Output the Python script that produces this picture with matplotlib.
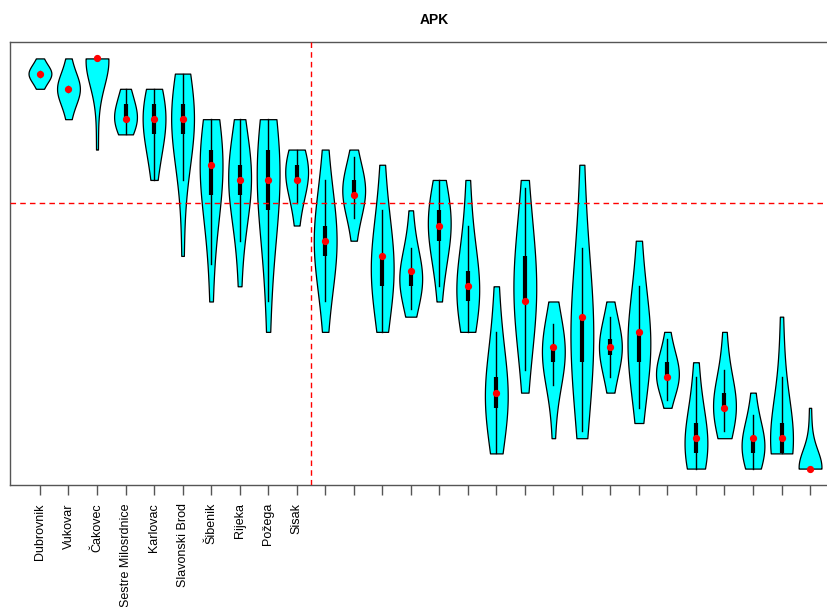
import numpy as np
import matplotlib.pyplot as plt

plt.rcParams['font.family'] = ['Liberation Sans', 'DejaVu Sans']

# hospital names (only the top ten are labelled in the original)
labels = ['Dubrovnik', 'Vukovar', 'Čakovec', 'Sestre Milosrdnice', 'Karlovac',
          'Slavonski Brod', 'Šibenik', 'Rijeka', 'Požega', 'Sisak'] + [''] * 18

# observed ranks per hospital
r01 = [1, 1.2, 1.5, 1.9, 2, 2, 2, 2, 2, 2, 2, 2.1, 2.5, 2.8, 3]
r02 = [1, 1.6, 2.3, 2.9, 3, 3, 3, 3, 3, 3, 3, 3.1, 3.7, 4.4, 5]
r03 = [1, 1, 1, 1, 1, 1, 1, 1, 1, 1, 1, 1.1, 2, 3.5, 7]
r04 = [3, 3, 3.5, 4, 4, 4.5, 5, 5, 5, 5, 5, 5, 5.5, 6, 6]
r05 = [3, 3, 3.5, 4, 4, 4.5, 5, 5, 5.5, 6, 6, 6, 7, 8, 9]
r06 = [2, 3, 3.5, 4, 4, 4.5, 5, 5, 5.5, 6, 6, 6, 7, 9, 14]
r07 = [5, 5.5, 6, 7, 7, 7.5, 8, 8, 8.5, 9, 10, 10, 11, 13, 17]
r08 = [5, 6, 7, 8, 8, 8.5, 9, 9, 9, 9.5, 10, 10, 11, 12.5, 16]
r09 = [5, 5.5, 6, 7, 7, 8, 8.5, 9, 9.5, 10, 11, 11, 12, 15, 19]
r10 = [7, 7, 7, 8, 8, 8, 8.5, 9, 9, 9, 9, 9, 10, 11, 12]
r11 = [7, 9, 10.5, 12, 12, 12.5, 13, 13, 13, 13.5, 14, 14, 15, 16.5, 19]
r12 = [7, 8, 8.5, 9, 9, 9.5, 10, 10, 10, 10, 10, 10, 11, 12, 13]
r13 = [8, 10, 12, 14, 14, 14, 14, 14, 15, 15, 16, 16, 17, 18, 19]
r14 = [11, 12.5, 14, 15, 15, 15, 15, 15, 15.5, 16, 16, 16, 16.5, 17, 18]
r15 = [9, 9.5, 10, 11, 11, 11.5, 12, 12, 12, 12.5, 13, 13, 14, 15, 17]
r16 = [9, 11, 13, 15, 15, 15.5, 16, 16, 16, 16.5, 17, 17, 17.5, 18, 19]
r17 = [16, 18, 20, 22, 22, 22.5, 23, 23, 23, 23.5, 24, 24, 25, 26, 27]
r18 = [9, 11, 12.5, 14, 14, 15, 16, 17, 17, 17, 17, 17, 18.5, 20, 23]
r19 = [17, 18, 19, 20, 20, 20, 20, 20, 20.5, 21, 21, 21, 22, 23, 26]
r20 = [8, 12, 15, 18, 18, 18, 18, 18, 19, 20, 21, 21, 22, 24, 26]
r21 = [17, 18, 18.5, 19, 20, 20, 20, 20, 20, 20, 20, 21, 21.5, 22, 23]
r22 = [13, 15, 17, 19, 19, 19, 19, 19, 20, 20, 21, 21, 22, 23, 25]
r23 = [19, 20, 20.5, 21, 21, 21.5, 22, 22, 22, 22, 22, 22, 22.5, 23, 24]
r24 = [21, 22, 24, 25, 25, 25.5, 26, 26, 26.5, 27, 27, 27, 27.5, 28, 28]
r25 = [19, 20.5, 22, 23, 23, 23.5, 24, 24, 24, 24, 24, 24, 25, 25.5, 26]
r26 = [23, 24, 25, 26, 26, 26, 26, 26, 26.5, 27, 27, 27, 27.5, 28, 28]
r27 = [18, 21, 23, 25, 25, 25.5, 26, 26, 26, 26.5, 27, 27, 27, 27, 27]
r28 = [24, 26, 27, 28, 28, 28, 28, 28, 28, 28, 28, 28, 28, 28, 28]

ranks = [r01, r02, r03, r04, r05, r06, r07, r08, r09, r10, r11, r12, r13, r14,
         r15, r16, r17, r18, r19, r20, r21, r22, r23, r24, r25, r26, r27, r28]
cut = 10.5

pos = np.arange(1, len(ranks) + 1)

fig = plt.figure(figsize=(8.27, 6.07), dpi=100)
ax = fig.add_axes([10 / 827, 122 / 607, 822 / 827, 443 / 607])

parts = ax.violinplot(ranks, positions=pos, widths=0.8, showextrema=False,
                      bw_method=1.0, points=200)
for body in parts['bodies']:
    body.set_facecolor('#00FFFF')
    body.set_edgecolor('black')
    body.set_linewidth(0.9)
    body.set_alpha(1)

# box and whiskers like vioplot
for x, d in zip(pos, ranks):
    d = np.asarray(d, dtype=float)
    q1, med, q3 = np.percentile(d, [25, 50, 75])
    iqr = q3 - q1
    lo = max(q1 - 1.5 * iqr, d.min())
    hi = min(q3 + 1.5 * iqr, d.max())
    ax.plot([x, x], [lo, hi], color='black', lw=1, zorder=3)
    ax.plot([x, x], [q1, q3], color='black', lw=3, solid_capstyle='butt', zorder=4)
    ax.plot(x, med, 'o', color='red', ms=4.2, zorder=5)

ax.axhline(cut, color='red', ls=(0, (4, 3)), lw=1, zorder=6)
ax.axvline(cut, color='red', ls=(0, (4, 3)), lw=1, zorder=6)

ax.set_xlim(-0.05, 28.77)
ax.set_ylim(29.08, -0.08)
ax.set_xticks(pos)
ax.set_xticklabels(labels, rotation=90, fontsize=9)
ax.set_yticks([])
ax.tick_params(axis='x', length=7, width=1, color='#555555', pad=6)
for s in ax.spines.values():
    s.set_color('#555555')
    s.set_linewidth(1)

fig.text(0.525, 1 - 20 / 607, 'APK', ha='center', va='center',
         fontsize=10, fontweight='bold')

fig.savefig('out.png', dpi=100)
